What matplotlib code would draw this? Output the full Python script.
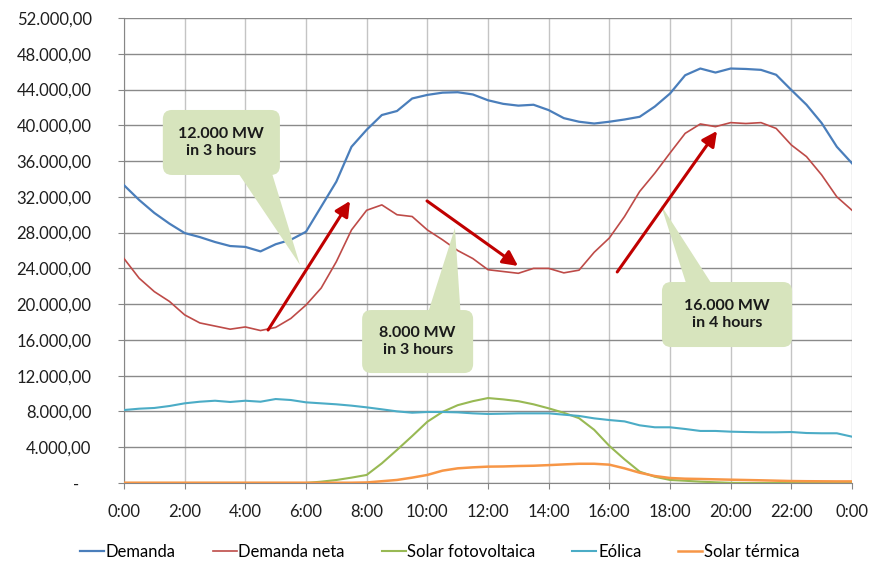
import matplotlib
matplotlib.use('Agg')
import matplotlib.pyplot as plt
import numpy as np
from matplotlib.patches import FancyBboxPatch, Polygon
from matplotlib.ticker import FuncFormatter

plt.rcParams['font.family'] = ['Lato', 'DejaVu Sans']

# half-hourly values (MW), 0:00 to 24:00
hours = np.arange(0, 24.01, 0.5)

demanda = [33300, 31650, 30200, 29000, 27950, 27500, 26950, 26500, 26400, 25900,
           26700, 27200, 28100, 30900, 33700, 37600, 39500, 41150, 41600, 43000,
           43400, 43650, 43700, 43450, 42800, 42400, 42200, 42300, 41700, 40800,
           40400, 40200, 40400, 40650, 40950, 42100, 43550, 45600, 46350, 45900,
           46350, 46300, 46200, 45650, 43950, 42300, 40250, 37600, 35750]

demanda_neta = [25100, 22900, 21400, 20300, 18800, 17900, 17550, 17200, 17450, 17050,
                17400, 18400, 19900, 21800, 24750, 28300, 30500, 31100, 30000, 29800,
                28300, 27200, 26000, 25100, 23850, 23650, 23450, 24000, 24000, 23500,
                23800, 25800, 27400, 29800, 32600, 34650, 36900, 39100, 40150, 39850,
                40300, 40200, 40300, 39650, 37800, 36500, 34450, 32000, 30500]

solar_fv = [0, 0, 0, 0, 0, 0, 0, 0, 0, 0,
            0, 0, 0, 150, 335, 600, 900, 2200, 3700, 5250,
            6850, 7950, 8700, 9150, 9500, 9350, 9150, 8800, 8350, 7850,
            7250, 5950, 4150, 2650, 1270, 700, 340, 250, 150, 80,
            20, 0, 0, 0, 0, 0, 0, 0, 0]

eolica = [8160, 8310, 8390, 8610, 8910, 9090, 9200, 9060, 9200, 9090,
          9390, 9280, 9020, 8910, 8800, 8650, 8460, 8240, 8010, 7860,
          7940, 7940, 7900, 7790, 7720, 7750, 7790, 7790, 7790, 7640,
          7500, 7230, 7040, 6890, 6450, 6230, 6230, 6040, 5820, 5820,
          5740, 5700, 5670, 5670, 5700, 5590, 5560, 5560, 5180]

solar_termica = [30, 30, 30, 30, 30, 30, 30, 30, 30, 30,
                 30, 30, 30, 30, 30, 30, 60, 200, 340, 600,
                 900, 1380, 1640, 1750, 1830, 1850, 1900, 1930, 2000, 2080,
                 2150, 2150, 2050, 1640, 1150, 780, 560, 480, 450, 410,
                 370, 335, 300, 260, 220, 200, 190, 180, 180]

series_names = ['Demanda', 'Demanda neta', 'Solar fotovoltaica', 'Eólica', 'Solar térmica']
series_colors = ['#4a7ebb', '#be4b48', '#98b954', '#4bacc6', '#f79646']
series_widths = [1.6, 1.2, 1.5, 1.5, 1.8]

x_ticks = np.arange(0, 25, 2)
x_labels = ['0:00', '2:00', '4:00', '6:00', '8:00', '10:00', '12:00', '14:00',
            '16:00', '18:00', '20:00', '22:00', '0:00']
y_ticks = np.arange(0, 52001, 4000)

# callouts: text, box centre, box size (h, MW), wedge base (x0, x1, y), wedge tip
callouts = [
    ('12.000 MW\nin 3 hours', (3.21, 38080), (3.86, 7270), (3.6, 4.8, 35500), (5.8, 24400)),
    ('8.000 MW\nin 3 hours', (9.68, 15820), (3.66, 7045), (10.0, 11.1, 18800), (10.91, 28520)),
    ('16.000 MW\nin 4 hours', (19.88, 18840), (4.29, 7270), (18.6, 19.5, 21600), (17.7, 31090)),
]
# ramps: start -> end
ramps = [((4.75, 17110), (7.45, 31540)),
         ((9.99, 31540), (12.99, 24270)),
         ((16.26, 23600), (19.55, 39370))]

W, H = 871, 562
fig = plt.figure(figsize=(W / 100, H / 100), dpi=100)
ax = fig.add_axes([124 / W, 1 - 483 / H, 728 / W, 465 / H])

all_series = [demanda, demanda_neta, solar_fv, eolica, solar_termica]
for vals, name, col, lw in zip(all_series, series_names, series_colors, series_widths):
    ax.plot(hours, vals, color=col, lw=lw, label=name, zorder=3)

ax.set_xlim(0, 24)
ax.set_ylim(0, 52000)
ax.set_xticks(x_ticks)
ax.set_xticklabels(x_labels)
ax.set_yticks(y_ticks)


def fmt_y(v, pos):
    if v == 0:
        return '-   '
    return f'{v:,.2f}'.replace(',', 'X').replace('.', ',').replace('X', '.')


ax.yaxis.set_major_formatter(FuncFormatter(fmt_y))
ax.tick_params(axis='y', length=4.3, color='#868686', pad=19, labelsize=12, labelcolor='#1f1f1f')
ax.tick_params(axis='x', length=4, color='#868686', pad=11, labelsize=12, labelcolor='#1f1f1f')

ax.grid(axis='y', color='#8a8a8a', lw=1.0, zorder=1)
ax.grid(axis='x', color='#c4c4c4', lw=1.0, zorder=1)
ax.set_axisbelow(True)
for s in ['top', 'right']:
    ax.spines[s].set_visible(False)
ax.spines['left'].set_color('#868686')
ax.spines['bottom'].set_color('#868686')

# aspect between data units per pixel in y and x, for rounded boxes
asp = (52000 / 465) / (24 / 728)
box_color = '#d7e4bd'
for txt, (cx, cy), (bw, bh), (b0, b1, by), (tx, ty) in callouts:
    box = FancyBboxPatch((cx - bw / 2, cy - bh / 2), bw, bh,
                         boxstyle='round,pad=0,rounding_size=0.3',
                         mutation_aspect=asp, fc=box_color, ec='none', zorder=4)
    ax.add_patch(box)
    ax.add_patch(Polygon([(b0, by), (b1, by), (tx, ty)], closed=True,
                         fc=box_color, ec='none', zorder=4))
    ax.text(cx, cy, txt, ha='center', va='center', fontsize=11.5,
            fontweight='bold', color='#1a1a1a', linespacing=1.35, zorder=5)

for (x0, y0), (x1, y1) in ramps:
    ax.annotate('', xy=(x1, y1), xytext=(x0, y0),
                arrowprops=dict(arrowstyle='-|>,head_length=0.6,head_width=0.3',
                                color='#c00000', lw=2.2, mutation_scale=15,
                                shrinkA=0, shrinkB=0), zorder=6)

fig.legend(loc='center', bbox_to_anchor=(0.505, 1 - 552 / H), ncol=5, frameon=False,
           fontsize=12, handlelength=1.45, handletextpad=0.1, columnspacing=2.2)

fig.savefig('out.png', dpi=100)
